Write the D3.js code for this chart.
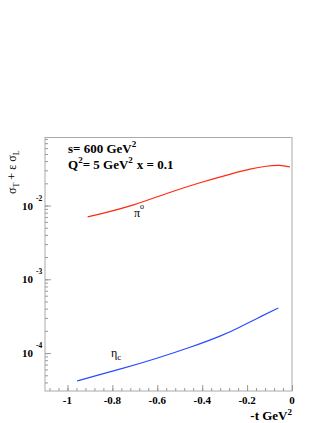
<!DOCTYPE html>
<html>
<head>
<meta charset="utf-8">
<script src="https://cdn.jsdelivr.net/npm/d3@7"></script>
<style>
  body { margin: 0; background: #fff; }
  svg text { font-family: "Liberation Serif", "Times New Roman", serif; font-weight: bold; fill: #000; }
  .ax path, .ax line { stroke: #999; }
</style>
</head>
<body>
<svg id="chart" width="327" height="423"></svg>
<script>
// -t values (GeV^2) and cross sections
var tPi0 = [-0.91, -0.855, -0.706, -0.558, -0.41, -0.261, -0.187, -0.113, -0.053, -0.009];
var sigPi0 = [7.03e-3, 7.65e-3, 1.0e-2, 1.47e-2, 2.05e-2, 2.74e-2, 3.13e-2, 3.44e-2, 3.55e-2, 3.33e-2];

var tEtac = [-0.957, -0.899, -0.751, -0.602, -0.454, -0.306, -0.231, -0.157, -0.061];
var sigEtac = [4.19e-5, 4.70e-5, 6.21e-5, 8.47e-5, 1.19e-4, 1.75e-4, 2.26e-4, 2.94e-4, 4.09e-4];

var xTicks = [-1, -0.8, -0.6, -0.4, -0.2, 0];
var xTickLabels = ["-1", "-0.8", "-0.6", "-0.4", "-0.2", "0"];
var yDecades = [1e-2, 1e-3, 1e-4];
var yDecadeExp = ["-2", "-3", "-4"];

var W = 327, H = 423;
var L = 45, R = 292, T = 137.5, B = 391;

var svg = d3.select("#chart");

var x = d3.scaleLinear().domain([-1.1, 0]).range([L, R]);
var y = d3.scaleLog().domain([Math.pow(10, -4.514), Math.pow(10, -1.078)]).range([B, T]);

// frame
svg.append("rect")
  .attr("x", L).attr("y", T)
  .attr("width", R - L).attr("height", B - T)
  .style("fill", "none").style("stroke", "#aaa").style("stroke-width", 1);

// x axis: major + minor ticks pointing inside
var minorX = d3.range(-1.08, 0.0001, 0.04);
svg.append("g").attr("class", "ax")
  .attr("transform", "translate(0," + B + ")")
  .call(d3.axisBottom(x).tickValues(minorX).tickSize(-3).tickFormat(""))
  .select(".domain").remove();
svg.append("g").attr("class", "ax")
  .attr("transform", "translate(0," + B + ")")
  .call(d3.axisBottom(x).tickValues(xTicks).tickSize(-6).tickFormat(""))
  .select(".domain").remove();

svg.selectAll(".xlab").data(xTicks).enter().append("text")
  .attr("class", "xlab")
  .attr("x", function(d) { return x(d); })
  .attr("y", 404)
  .attr("text-anchor", "middle")
  .style("font-size", "11px")
  .text(function(d, i) { return xTickLabels[i]; });

// y axis: log ticks pointing inside
svg.append("g").attr("class", "ax")
  .attr("transform", "translate(" + L + ",0)")
  .call(d3.axisLeft(y).tickValues(y.ticks()).tickSize(-3).tickFormat(""))
  .select(".domain").remove();
svg.append("g").attr("class", "ax")
  .attr("transform", "translate(" + L + ",0)")
  .call(d3.axisLeft(y).tickValues(yDecades).tickSize(-6).tickFormat(""))
  .select(".domain").remove();

var ylab = svg.selectAll(".ylab").data(yDecades).enter().append("g")
  .attr("class", "ylab")
  .attr("transform", function(d) { return "translate(0," + y(d) + ")"; });
ylab.append("text")
  .attr("x", 33).attr("y", 4)
  .attr("text-anchor", "end")
  .style("font-size", "11px")
  .text("10");
ylab.append("text")
  .attr("x", 36).attr("y", -5)
  .style("font-size", "7.5px")
  .text(function(d, i) { return yDecadeExp[i]; });

// curves
var line = d3.line()
  .x(function(d) { return x(d[0]); })
  .y(function(d) { return y(d[1]); })
  .curve(d3.curveBasis);

svg.append("path")
  .datum(d3.zip(tPi0, sigPi0))
  .attr("d", line)
  .style("fill", "none").style("stroke", "#ff2a10").style("stroke-width", 1.2);

svg.append("path")
  .datum(d3.zip(tEtac, sigEtac))
  .attr("d", line)
  .style("fill", "none").style("stroke", "#2a4cff").style("stroke-width", 1.2);

// curve labels
var pi = svg.append("text").attr("x", 134).attr("y", 217).style("font-size", "12px").style("font-weight", "normal");
pi.append("tspan").text("π");
pi.append("tspan").attr("dy", -8).style("font-size", "8px").text("o");

var eta = svg.append("text").attr("x", 111).attr("y", 357).style("font-size", "12px").style("font-weight", "normal");
eta.append("tspan").text("η");
eta.append("tspan").attr("dy", 3).style("font-size", "9px").text("c");

// kinematics text
var t1 = svg.append("text").attr("x", 68).attr("y", 153).style("font-size", "13px");
t1.append("tspan").text("s= 600 GeV");
t1.append("tspan").attr("dy", -6).style("font-size", "9px").text("2");

var t2 = svg.append("text").attr("x", 68).attr("y", 169).style("font-size", "13px");
t2.append("tspan").text("Q");
t2.append("tspan").attr("dy", -6).style("font-size", "9px").text("2");
t2.append("tspan").attr("dy", 6).text("= 5 GeV");
t2.append("tspan").attr("dy", -6).style("font-size", "9px").text("2");
t2.append("tspan").attr("dy", 6).attr("dx", 4).text("x = 0.1");

// axis titles
var xt = svg.append("text").attr("x", 292).attr("y", 420).attr("text-anchor", "end").style("font-size", "13px");
xt.append("tspan").text("-t GeV");
xt.append("tspan").attr("dy", -5).style("font-size", "9px").text("2");

var yt = svg.append("text")
  .attr("transform", "translate(16,194) rotate(-90)")
  .style("font-size", "12px").style("font-weight", "normal");
yt.append("tspan").text("σ");
yt.append("tspan").attr("dy", 3).style("font-size", "8px").text("T");
yt.append("tspan").attr("dy", -3).text(" + ε σ");
yt.append("tspan").attr("dy", 3).style("font-size", "8px").text("L");
</script>
</body>
</html>
